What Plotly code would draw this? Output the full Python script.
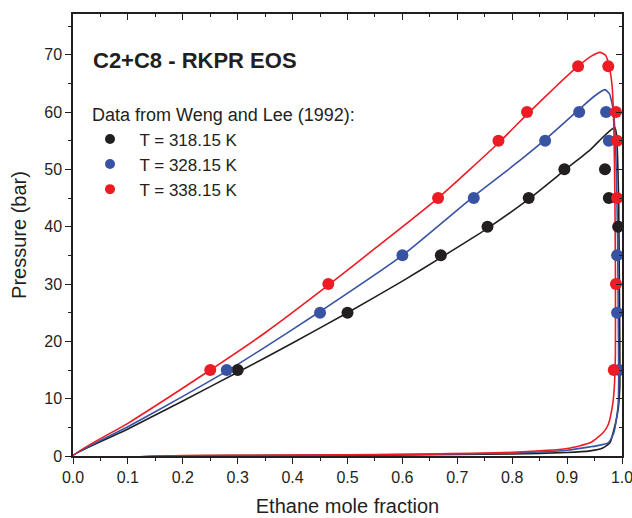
import plotly.graph_objects as go

# ---------------- data ----------------
# experimental points (Weng and Lee, 1992)
exp318_x = [0.30, 0.50, 0.67, 0.755, 0.83, 0.895, 0.969, 0.976, 0.993]
exp318_p = [15, 25, 35, 40, 45, 50, 50, 45, 40]

exp328_x = [0.28, 0.45, 0.60, 0.73, 0.86, 0.922, 0.971, 0.976, 0.991, 0.991, 0.995]
exp328_p = [15, 25, 35, 45, 55, 60, 60, 55, 35, 25, 15]

exp338_x = [0.25, 0.465, 0.665, 0.775, 0.827, 0.92, 0.975, 0.989, 0.991, 0.991, 0.989, 0.985]
exp338_p = [15, 30, 45, 55, 60, 68, 68, 60, 55, 45, 30, 15]

# RKPR EOS phase envelopes (bubble branch then dew branch)
env318_x = [0, 0.1, 0.2, 0.3, 0.4, 0.5, 0.6, 0.67, 0.75, 0.83, 0.9, 0.942, 0.965, 0.98, 0.987,
            0.99, 0.992, 0.994, 0.995, 0.996, 0.996, 0.994, 0.991, 0.985, 0.978, 0.965, 0.942,
            0.9, 0.8, 0.6, 0.4, 0.2, 0]
env318_p = [0, 4.7, 9.6, 14.6, 19.7, 25, 30.5, 34.6, 39.4, 44.8, 50.2, 53.4, 55.6, 56.9, 57.3,
            56, 52, 44, 32, 20, 12, 9, 7, 4.5, 2.3, 1.4, 0.9,
            0.6, 0.35, 0.18, 0.09, 0.03, 0]

env328_x = [0, 0.1, 0.2, 0.28, 0.35, 0.45, 0.6, 0.73, 0.8, 0.86, 0.92, 0.95, 0.969, 0.977, 0.984,
            0.988, 0.99, 0.992, 0.993, 0.994, 0.993, 0.99, 0.985, 0.975, 0.96, 0.942,
            0.9, 0.8, 0.6, 0.4, 0.2, 0]
env328_p = [0, 5.1, 10.4, 14.8, 19, 25.2, 35, 45.3, 50.5, 55.2, 60.3, 62.8, 63.9, 63.2, 60.4,
            55, 48, 38, 26, 14, 9, 6.5, 4, 2.3, 1.9, 1.6,
            1.0, 0.5, 0.25, 0.12, 0.05, 0]

env338_x = [0, 0.1, 0.25, 0.35, 0.465, 0.55, 0.665, 0.775, 0.827, 0.88, 0.92, 0.945, 0.96, 0.97,
            0.977, 0.982, 0.985, 0.987, 0.988, 0.988, 0.986, 0.983, 0.975, 0.965, 0.942,
            0.9, 0.8, 0.6, 0.4, 0.2, 0]
env338_p = [0, 5.7, 15, 21.5, 29.8, 36.2, 45, 54.6, 59.6, 64.5, 68, 69.8, 70.4, 69.9,
            67.8, 64.5, 58, 46, 32, 18, 12, 9, 5.5, 4, 2.3,
            1.3, 0.65, 0.3, 0.15, 0.06, 0]

series_names = ["T = 318.15 K", "T = 328.15 K", "T = 338.15 K"]
colors = ["#231f20", "#3953a4", "#ed1c24"]

x_ticks = [0.0, 0.1, 0.2, 0.3, 0.4, 0.5, 0.6, 0.7, 0.8, 0.9, 1.0]
x_ticklabels = ["0.0", "0.1", "0.2", "0.3", "0.4", "0.5", "0.6", "0.7", "0.8", "0.9", "1.0"]
y_ticks = [0, 10, 20, 30, 40, 50, 60, 70]

FONT = "Liberation Sans, Arial, sans-serif"
TXT = "#231f20"

fig = go.Figure()

envs = [(env318_x, env318_p), (env328_x, env328_p), (env338_x, env338_p)]
exps = [(exp318_x, exp318_p), (exp328_x, exp328_p), (exp338_x, exp338_p)]

for (ex, ep), c in zip(envs, colors):
    fig.add_trace(go.Scatter(x=ex, y=ep, mode="lines", line=dict(color=c, width=1.6, shape="spline", smoothing=0.5),
                             showlegend=False, hoverinfo="skip"))

for (ex, ep), c, n in zip(exps, colors, series_names):
    fig.add_trace(go.Scatter(x=ex, y=ep, mode="markers", marker=dict(color=c, size=12, line=dict(width=0)),
                             showlegend=False, name=n))

# legend entries
for c, n in zip(colors, series_names):
    fig.add_trace(go.Scatter(x=[None], y=[None], mode="markers", marker=dict(color=c, size=10),
                             name="\u00a0\u00a0" + n, showlegend=True))

# dummy trace for the mirrored (inside-tick) top/right axes
fig.add_trace(go.Scatter(x=[None], y=[None], xaxis="x2", yaxis="y2", showlegend=False, hoverinfo="skip"))

axis_common = dict(showgrid=False, zeroline=False, showline=True, linecolor=TXT, linewidth=1.5,
                   tickcolor=TXT, tickwidth=1.3, ticklen=6,
                   tickfont=dict(family=FONT, size=16, color=TXT))

fig.update_layout(
    width=632, height=518,
    margin=dict(l=73, r=10, t=14, b=62, autoexpand=False),
    paper_bgcolor="white", plot_bgcolor="white",
    font=dict(family=FONT, color=TXT),
    xaxis=dict(range=[0, 1.0], tickvals=x_ticks, ticktext=x_ticklabels, ticks="outside",
               ticklabeloverflow="allow",
               minor=dict(dtick=0.05, ticks="outside", ticklen=3.5, tickcolor=TXT, tickwidth=1.2),
               title=dict(text="Ethane mole fraction", font=dict(family=FONT, size=20, color=TXT), standoff=14),
               automargin=False, **axis_common),
    yaxis=dict(range=[0, 77.1], tickvals=y_ticks, ticks="outside",
               ticklabeloverflow="allow",
               minor=dict(dtick=5, ticks="outside", ticklen=3.5, tickcolor=TXT, tickwidth=1.2),
               title=dict(text="Pressure (bar)", font=dict(family=FONT, size=20, color=TXT), standoff=12),
               automargin=False, **axis_common),
    xaxis2=dict(range=[0, 1.0], overlaying="x", side="top", tickvals=x_ticks, showticklabels=False,
                ticks="inside", minor=dict(dtick=0.05, ticks="inside", ticklen=3.5, tickcolor=TXT, tickwidth=1.2),
                **axis_common),
    yaxis2=dict(range=[0, 77.1], overlaying="y", side="right", tickvals=y_ticks, showticklabels=False,
                ticks="inside", minor=dict(dtick=5, ticks="inside", ticklen=3.5, tickcolor=TXT, tickwidth=1.2),
                **axis_common),
    legend=dict(x=(90 - 73) / 549, y=(456 - 98) / 442, xanchor="left", yanchor="top",
                bgcolor="rgba(0,0,0,0)", borderwidth=0,
                font=dict(family=FONT, size=17, color=TXT),
                title=dict(text="Data from Weng and Lee (1992):", font=dict(family=FONT, size=18, color=TXT)),
                tracegroupgap=0, itemsizing="trace"),
    annotations=[dict(text="<b>C2+C8 - RKPR EOS</b>", xref="paper", yref="paper",
                      x=(91 - 73) / 549, y=(456 - 61) / 442, xanchor="left", yanchor="middle",
                      showarrow=False, font=dict(family=FONT, size=22, color=TXT))],
)

fig.write_html("out.html")
